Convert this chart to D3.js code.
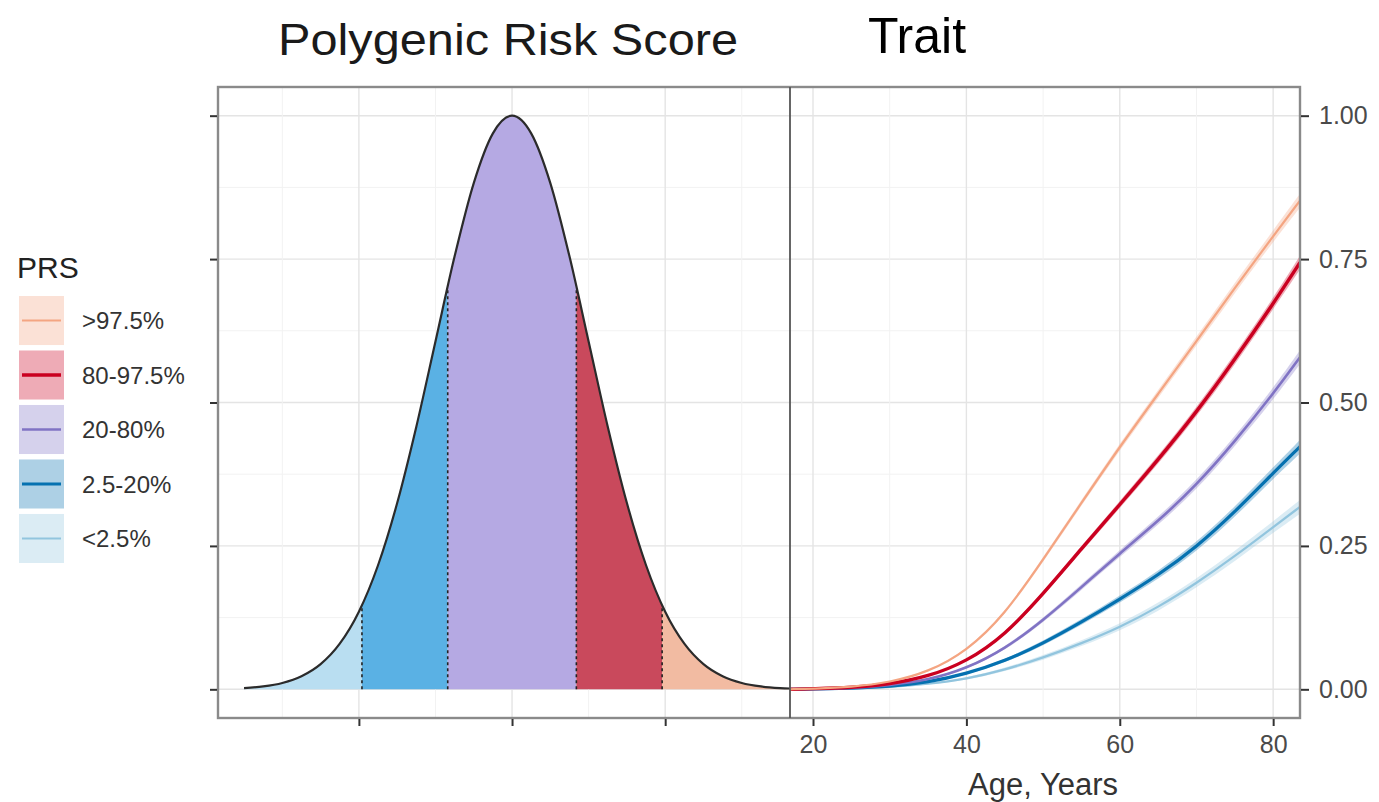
<!DOCTYPE html>
<html>
<head>
<meta charset="utf-8">
<script src="https://cdn.jsdelivr.net/npm/d3@7"></script>
<style>
  html, body { margin: 0; padding: 0; background: #fff; }
  svg { display: block; font-family: "Liberation Sans", Arial, sans-serif; }
</style>
</head>
<body>
<svg id="chart" width="1379" height="802"></svg>
<script>
// ---------------- data ----------------
// Left panel: standardized PRS density (scaled so peak = 1)
const prsZ = [-3.5,-3.25,-3,-2.75,-2.5,-2.25,-2,-1.75,-1.5,-1.25,-1,-0.75,-0.5,-0.25,0,0.25,0.5,0.75,1,1.25,1.5,1.75,2,2.25,2.5,2.75,3,3.25,3.5,3.75];
const prsDensity = [0.0022,0.0051,0.0111,0.0228,0.0439,0.0796,0.1353,0.2163,0.3247,0.4578,0.6065,0.7548,0.8825,0.9692,1.0,0.9692,0.8825,0.7548,0.6065,0.4578,0.3247,0.2163,0.1353,0.0796,0.0439,0.0228,0.0111,0.0051,0.0022,0.0009];
const cutZ = [-1.96, -0.84, 0.84, 1.96];
const cutHeight = [0.146, 0.70, 0.70, 0.146];
const prsTicksX = [-2, 0, 2];
const prsMinor = [-3, -1, 1, 3];

// Groups (legend order)
const groups = [">97.5%", "80-97.5%", "20-80%", "2.5-20%", "<2.5%"];
const groupLine = ["#f4a582", "#ca0020", "#8073c4", "#0571b0", "#92c5de"];
const groupFill = ["#f2bba2", "#c9495c", "#b5a9e3", "#5ab1e4", "#b9def1"];

// Right panel: cumulative incidence of trait by age
const ages = [17, 20, 25, 30, 35, 40, 45, 50, 55, 60, 65, 70, 75, 80, 83.5];
const riskTop      = [0, 0.001, 0.004, 0.012, 0.030, 0.066, 0.130, 0.226, 0.325, 0.423, 0.515, 0.607, 0.700, 0.790, 0.852];
const riskHigh     = [0, 0.001, 0.003, 0.009, 0.022, 0.048, 0.094, 0.166, 0.245, 0.322, 0.400, 0.483, 0.575, 0.672, 0.744];
const riskMid      = [0, 0.0005, 0.002, 0.007, 0.016, 0.036, 0.070, 0.120, 0.178, 0.237, 0.293, 0.356, 0.432, 0.515, 0.579];
const riskLow      = [0, 0.0005, 0.002, 0.005, 0.012, 0.027, 0.049, 0.080, 0.117, 0.157, 0.199, 0.248, 0.309, 0.377, 0.423];
const riskBottom   = [0, 0.0003, 0.0015, 0.004, 0.009, 0.018, 0.034, 0.055, 0.080, 0.108, 0.143, 0.185, 0.232, 0.283, 0.318];
const ciHalf       = [0, 0, 0, 0.001, 0.001, 0.002, 0.003, 0.004, 0.005, 0.006, 0.007, 0.008, 0.009, 0.010, 0.012];
const riskSeries = [riskTop, riskHigh, riskMid, riskLow, riskBottom];
const lineWidths = [2.2, 3.4, 2.6, 3.2, 2.2];

const ageTicks = [20, 40, 60, 80];
const ageMinor = [30, 50, 70];
const yTicks = [0, 0.25, 0.5, 0.75, 1.0];
const yMinor = [0.125, 0.375, 0.625, 0.875];
const yTickLabels = ["0.00", "0.25", "0.50", "0.75", "1.00"];

// ---------------- layout ----------------
const svg = d3.select("#chart");
const pTop = 87, pBottom = 718;
const lLeft = 218, mid = 790, rRight = 1300;

const y = d3.scaleLinear().domain([-0.05, 1.05]).range([pBottom, pTop]);
const xL = d3.scaleLinear().domain([-3.84, 3.63]).range([lLeft, mid]);
const xR = d3.scaleLinear().domain([17, 83.5]).range([mid, rRight]);

const defs = svg.append("defs");
defs.append("clipPath").attr("id", "clipL").append("rect")
  .attr("x", lLeft).attr("y", pTop).attr("width", mid - lLeft).attr("height", pBottom - pTop);
defs.append("clipPath").attr("id", "clipR").append("rect")
  .attr("x", mid).attr("y", pTop).attr("width", rRight - mid).attr("height", pBottom - pTop);

// ---------------- grids ----------------
const gGrid = svg.append("g");
[[yMinor, "#f2f2f2", 1], [yTicks, "#e4e4e4", 1.4]].forEach(([vals, col, w]) => {
  gGrid.selectAll(null).data(vals).enter().append("line")
    .attr("x1", lLeft).attr("x2", rRight)
    .attr("y1", d => y(d)).attr("y2", d => y(d))
    .attr("stroke", col).attr("stroke-width", w);
});
[[prsMinor, "#f2f2f2", 1], [prsTicksX, "#e4e4e4", 1.4]].forEach(([vals, col, w]) => {
  gGrid.selectAll(null).data(vals).enter().append("line")
    .attr("x1", d => xL(d)).attr("x2", d => xL(d))
    .attr("y1", pTop).attr("y2", pBottom)
    .attr("stroke", col).attr("stroke-width", w);
});
[[ageMinor, "#f2f2f2", 1], [ageTicks, "#e4e4e4", 1.4]].forEach(([vals, col, w]) => {
  gGrid.selectAll(null).data(vals).enter().append("line")
    .attr("x1", d => xR(d)).attr("x2", d => xR(d))
    .attr("y1", pTop).attr("y2", pBottom)
    .attr("stroke", col).attr("stroke-width", w);
});

// ---------------- left panel: density ----------------
const dens = prsZ.map((z, i) => ({ z, d: prsDensity[i] }));
const area = d3.area().x(p => xL(p.z)).y0(y(0)).y1(p => y(p.d)).curve(d3.curveMonotoneX);
const line = d3.line().x(p => xL(p.z)).y(p => y(p.d)).curve(d3.curveMonotoneX);

const bounds = [-10].concat(cutZ).concat([10]);
const gL = svg.append("g").attr("clip-path", "url(#clipL)");
for (let i = 0; i < 5; i++) {
  const id = "seg" + i;
  const x0 = Math.max(xL(bounds[i]), lLeft - 5), x1 = Math.min(xL(bounds[i + 1]), mid + 5);
  defs.append("clipPath").attr("id", id).append("rect")
    .attr("x", x0).attr("y", pTop).attr("width", x1 - x0).attr("height", pBottom - pTop);
  gL.append("g").attr("clip-path", `url(#${id})`)
    .append("path").datum(dens).attr("d", area)
    .attr("fill", groupFill[4 - i]);
}
gL.selectAll(null).data(cutZ).enter().append("line")
  .attr("x1", d => xL(d)).attr("x2", d => xL(d))
  .attr("y1", y(0)).attr("y2", (d, i) => y(cutHeight[i]))
  .attr("stroke", "#222").attr("stroke-width", 1.6).attr("stroke-dasharray", "3,3");
gL.append("path").datum(dens).attr("d", line)
  .attr("fill", "none").attr("stroke", "#2b2b2b").attr("stroke-width", 2.2);

// ---------------- right panel: risk curves ----------------
const gR = svg.append("g").attr("clip-path", "url(#clipR)");
const smooth = d3.curveBasis;
const ribbon = d3.area().x(p => xR(p.a)).y0(p => y(p.v - p.c)).y1(p => y(p.v + p.c)).curve(smooth);
const rline = d3.line().x(p => xR(p.a)).y(p => y(p.v)).curve(smooth);
for (let k = 4; k >= 0; k--) {
  const pts = ages.map((a, i) => ({ a, v: riskSeries[k][i], c: ciHalf[i] }));
  gR.append("path").datum(pts).attr("d", ribbon)
    .attr("fill", groupLine[k]).attr("fill-opacity", 0.33);
  gR.append("path").datum(pts).attr("d", rline)
    .attr("fill", "none").attr("stroke", groupLine[k]).attr("stroke-width", lineWidths[k]);
}

// ---------------- frames ----------------
svg.append("rect").attr("x", lLeft).attr("y", pTop).attr("width", rRight - lLeft).attr("height", pBottom - pTop)
  .attr("fill", "none").attr("stroke", "#8a8a8a").attr("stroke-width", 2.4);
svg.append("line").attr("x1", mid).attr("x2", mid).attr("y1", pTop).attr("y2", pBottom)
  .attr("stroke", "#555").attr("stroke-width", 1.8);

// ---------------- axes ----------------
const tickStyle = g => {
  g.select(".domain").remove();
  g.selectAll(".tick line").attr("stroke", "#333").attr("stroke-width", 2);
  g.selectAll(".tick text").attr("fill", "#4a4a4a").attr("font-size", 25)
    .attr("font-family", "Liberation Sans, Arial, sans-serif");
};
svg.append("g").attr("transform", `translate(${lLeft - 1},0)`)
  .call(d3.axisLeft(y).tickValues(yTicks).tickSize(7).tickFormat(""))
  .call(tickStyle);
svg.append("g").attr("transform", `translate(0,${pBottom + 1})`)
  .call(d3.axisBottom(xL).tickValues(prsTicksX).tickSize(7).tickFormat(""))
  .call(tickStyle);
svg.append("g").attr("transform", `translate(${rRight + 1},0)`)
  .call(d3.axisRight(y).tickValues(yTicks).tickSize(8).tickPadding(10)
    .tickFormat((d, i) => yTickLabels[i]))
  .call(tickStyle);
svg.append("g").attr("transform", `translate(0,${pBottom + 1})`)
  .call(d3.axisBottom(xR).tickValues(ageTicks).tickSize(7).tickPadding(9))
  .call(tickStyle);

svg.append("text").attr("x", xR(50)).attr("y", 795).attr("text-anchor", "middle")
  .attr("font-size", 31).attr("fill", "#333").text("Age, Years");

// ---------------- titles ----------------
svg.append("text").attr("x", 508).attr("y", 55).attr("text-anchor", "middle")
  .attr("font-size", 45).attr("fill", "#1a1a1a")
  .attr("textLength", 460).attr("lengthAdjust", "spacingAndGlyphs")
  .text("Polygenic Risk Score");
svg.append("text").attr("x", 917).attr("y", 53).attr("text-anchor", "middle")
  .attr("font-size", 50).attr("fill", "#000")
  .attr("font-family", "'Liberation Sans Narrow', 'Liberation Sans', sans-serif")
  .text("Trait");

// ---------------- legend ----------------
const lg = svg.append("g");
lg.append("text").attr("x", 17).attr("y", 278).attr("font-size", 30).attr("fill", "#222").text("PRS");
const keyY = d3.scaleBand().domain(groups).range([296, 563]).paddingInner(0.1);
groups.forEach((g, i) => {
  const yy = keyY(g), h = keyY.bandwidth();
  lg.append("rect").attr("x", 19).attr("y", yy).attr("width", 45).attr("height", h)
    .attr("fill", groupLine[i]).attr("fill-opacity", 0.33);
  lg.append("line").attr("x1", 22).attr("x2", 61).attr("y1", yy + h / 2).attr("y2", yy + h / 2)
    .attr("stroke", groupLine[i]).attr("stroke-width", lineWidths[i]);
  lg.append("text").attr("x", 82).attr("y", yy + h / 2).attr("dy", "0.36em")
    .attr("font-size", 24).attr("fill", "#333").text(g);
});
</script>
</body>
</html>
